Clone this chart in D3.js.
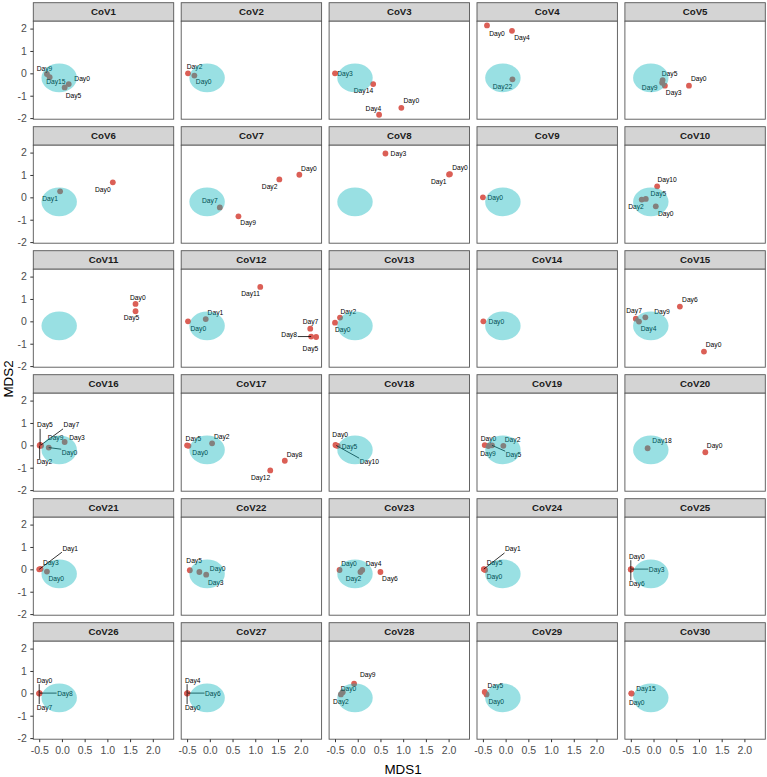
<!DOCTYPE html>
<html>
<head>
<meta charset="utf-8">
<script src="https://cdn.jsdelivr.net/npm/d3@7"></script>
<style>
body{margin:0;background:#fff;}
svg{font-family:"Liberation Sans",Arial,Helvetica,sans-serif;}
</style>
</head>
<body>
<svg id="chart" width="767" height="777"></svg>
<script>
// patients (facets), one entry per panel
var patients = ["CoV1","CoV2","CoV3","CoV4","CoV5","CoV6","CoV7","CoV8","CoV9","CoV10",
	"CoV11","CoV12","CoV13","CoV14","CoV15","CoV16","CoV17","CoV18","CoV19","CoV20",
	"CoV21","CoV22","CoV23","CoV24","CoV25","CoV26","CoV27","CoV28","CoV29","CoV30"];

// sample day of each point, per patient
var sampleDays = [
	["Day9","Day15","Day0","Day5"],
	["Day2","Day0"],
	["Day3","Day14","Day4","Day0"],
	["Day0","Day4","Day22"],
	["Day5","Day9","Day3","Day0"],
	["Day1","Day0"],
	["Day7","Day9","Day2","Day0"],
	["Day3","Day0","Day1"],
	["Day0"],
	["Day10","Day5","Day2","Day0"],
	["Day0","Day5"],
	["Day0","Day1","Day11","Day7","Day8","Day5"],
	["Day2","Day0"],
	["Day0"],
	["Day7","Day9","Day4","Day6","Day0"],
	["Day5","Day7","Day9","Day2","Day3","Day0"],
	["Day5","Day2","Day0","Day8","Day12"],
	["Day0","Day5","Day10"],
	["Day0","Day9","Day2","Day5"],
	["Day18","Day0"],
	["Day1","Day3","Day0"],
	["Day5","Day0","Day3"],
	["Day0","Day4","Day2","Day6"],
	["Day1","Day5","Day0"],
	["Day0","Day3","Day6"],
	["Day0","Day8","Day7"],
	["Day4","Day6","Day0"],
	["Day9","Day0","Day2"],
	["Day5","Day0"],
	["Day15","Day0"]
];

// MDS1 coordinate of each point
var sampleMDS1 = [
	[-0.33,-0.27,0.15,0.06],
	[-0.48,-0.34],
	[-0.50,0.34,0.47,0.96],
	[-0.41,0.14,0.15],
	[0.20,0.19,0.25,0.78],
	[-0.04,1.12],
	[0.22,0.63,1.53,1.97],
	[0.61,2.03,2.01],
	[-0.50],
	[0.08,-0.17,-0.26,0.05],
	[1.62,1.62],
	[-0.48,-0.09,1.11,2.21,2.23,2.34],
	[-0.39,-0.50],
	[-0.49],
	[-0.39,-0.18,-0.32,0.58,1.11],
	[-0.48,-0.47,-0.46,-0.49,0.06,-0.29],
	[-0.50,0.05,-0.47,1.65,1.33],
	[-0.49,-0.44,-0.47],
	[-0.46,-0.38,-0.05,-0.30],
	[-0.13,1.14],
	[-0.50,-0.47,-0.33],
	[-0.44,-0.23,-0.08],
	[-0.40,0.10,0.06,0.50],
	[-0.48,-0.47,-0.45],
	[-0.50,-0.49,-0.50],
	[-0.50,-0.49,-0.50],
	[-0.50,-0.49,-0.50],
	[-0.08,-0.33,-0.37],
	[-0.46,-0.42],
	[-0.49,-0.48]
];

// MDS2 coordinate of each point
var sampleMDS2 = [
	[-0.03,-0.17,-0.48,-0.63],
	[0.00,-0.10],
	[0.00,-0.48,-1.85,-1.54],
	[2.14,1.90,-0.27],
	[-0.30,-0.42,-0.55,-0.55],
	[0.27,0.67],
	[-0.45,-0.85,0.80,1.01],
	[1.96,1.04,1.02],
	[0.00],
	[0.49,-0.07,-0.10,-0.40],
	[0.78,0.45],
	[0.00,0.10,1.54,-0.33,-0.68,-0.70],
	[0.17,-0.06],
	[0.00],
	[0.12,0.18,-0.01,0.66,-1.35],
	[0.02,0.00,-0.02,-0.01,0.15,-0.10],
	[0.00,0.09,-0.02,-0.69,-1.12],
	[0.02,-0.02,-0.01],
	[0.01,-0.03,-0.02,0.00],
	[-0.13,-0.31],
	[0.00,0.02,-0.10],
	[-0.04,-0.12,-0.24],
	[-0.03,-0.03,-0.12,-0.12],
	[0.01,0.00,-0.03],
	[0.00,0.01,-0.01],
	[0.00,0.01,-0.01],
	[0.00,0.01,-0.01],
	[0.43,0.05,-0.05],
	[0.06,-0.05],
	[0.00,-0.01]
];

// healthy reference region (ellipse), MDS units
var healthyCentre = [-0.06, -0.20];
var healthyRadius = [0.39, 0.64];

// tick values
var xTicks = [-0.5, 0, 0.5, 1, 1.5, 2];
var yTicks = [-2, -1, 0, 1, 2];

// label placement (repel result): [dx, dy, segment] in px, per point
var labelNudge = [
	[[-2.4,-5.3],[6.2,4.7],[13.4,-5],[8.8,8.2]],
	[[6.6,-6.3],[9.3,5.7]],
	[[10,0],[-9.7,6.7],[-5.7,-6.4],[10,-6.7]],
	[[10,8],[10,6.6],[-10,7.4]],
	[[7,-6.3],[-12.5,5],[8.8,6.7],[9.8,-6.6]],
	[[-10,7.3],[-10,7.3]],
	[[-10,-6.7],[9.7,6.6],[-9.7,7],[9.6,-6.3]],
	[[13,0],[10,-6],[-10.3,7.3]],
	[[12.3,0]],
	[[10,-6.4],[12.6,-5],[-5.7,7.3],[10,7.3]],
	[[2.3,-6.6],[-4,6.6]],
	[[10.3,7],[9.7,-6],[-9.7,6.7],[0.3,-7.3],[-22,-1.7,1],[-5.7,11.7]],
	[[8.3,-6.3],[7.7,6.7]],
	[[13,0]],
	[[-1.7,-8],[16.7,-6],[9.6,7],[10,-6.7],[9.6,-6.7]],
	[[4.8,-19.9,1],[30.8,-20.3,1],[14.6,-7.7],[4.8,16.5,1],[12.3,-4],[20.8,4.8,1]],
	[[6.3,-6.6],[9.7,-6.6],[11.7,6.6],[9.7,-6.4],[-9.6,7]],
	[[4.7,-10.6],[11.8,1.3],[33,15.8,1]],
	[[3.8,-6.8],[-0.4,7.7],[9.2,-5.7],[21.5,9,1]],
	[[14.4,-7.3],[9.3,-6.6]],
	[[31,-21,1],[10.3,-6.6],[9.3,7.3]],
	[[4.3,-10],[18.3,-3.3],[9.6,7.7]],
	[[9.4,-6.6],[11.3,-6.7],[-6.9,6.9],[9.5,7]],
	[[29,-20,1],[10.3,-6.4],[9.3,6.3]],
	[[6,-13,1],[25.4,0.6,1],[6,14,1]],
	[[5.3,-13,1],[25.3,0.4,1],[5.3,13.7,1]],
	[[5.7,-13,1],[25.3,0.4,1],[5.7,13.7,1]],
	[[13.7,-8.7],[5.8,-3.5],[0,7.3]],
	[[10.7,-6.3],[9.7,7.4]],
	[[14.7,-4.3],[5,9.4]]
];

//layout of the facet grid
var panelLeft = 33.3, panelW = 140.4, colStep = 147.9;
var stripTop = 2.7, stripH = 18.5, panelH = 98, rowStep = 124;
var nCol = 5, nRow = 6;

var pointColor = "#db5f56";
var ellipseColor = "rgba(0,178,186,0.40)";
var borderColor = "#555555";

var x = d3.scaleLinear().domain([-0.63, 2.46]).range([0, panelW]);
var y = d3.scaleLinear().domain([-2.05, 2.33]).range([panelH, 0]);

var svg = d3.select("#chart");

function clamp(v, lo, hi) { return Math.max(lo, Math.min(hi, v)); }

patients.forEach(function(name, i) {
	var col = i % nCol, row = Math.floor(i / nCol);
	var g = svg.append("g")
		.attr("transform", "translate(" + (panelLeft + col * colStep) + "," + (stripTop + row * rowStep) + ")");

	//strip
	g.append("rect")
		.attr("width", panelW).attr("height", stripH)
		.attr("fill", "#d4d4d4").attr("stroke", borderColor).attr("stroke-width", 0.9);
	g.append("text")
		.attr("x", panelW / 2).attr("y", stripH / 2).attr("dy", "0.36em")
		.attr("text-anchor", "middle")
		.attr("font-size", "9.7px").attr("font-weight", "bold").attr("fill", "#1a1a1a")
		.text(name);

	var pg = g.append("g").attr("transform", "translate(0," + stripH + ")");
	pg.append("rect").attr("width", panelW).attr("height", panelH).attr("fill", "#fff");

	var pts = sampleDays[i].map(function(d, j) {
		return {day: d, mx: sampleMDS1[i][j], my: sampleMDS2[i][j], nudge: labelNudge[i][j]};
	});

	pg.selectAll("circle.pt").data(pts).enter().append("circle")
		.attr("class", "pt")
		.attr("cx", function(d) { return x(d.mx); })
		.attr("cy", function(d) { return y(d.my); })
		.attr("r", 2.9)
		.attr("fill", pointColor);

	var segLayer = pg.append("g");
	var lblLayer = pg.append("g");
	pts.forEach(function(d) {
		var px = x(d.mx), py = y(d.my);
		var t = lblLayer.append("text")
			.attr("x", px + d.nudge[0]).attr("y", py + d.nudge[1]).attr("dy", "0.35em")
			.attr("text-anchor", "middle")
			.attr("font-size", "6.7px").attr("fill", "#000")
			.text(d.day);
		if (d.nudge[2]) {
			var bb = t.node().getBBox();
			var nx = clamp(px, bb.x - 0.5, bb.x + bb.width + 0.5);
			var ny = clamp(py, bb.y + 0.5, bb.y + bb.height - 0.5);
			segLayer.append("line")
				.attr("x1", px).attr("y1", py).attr("x2", nx).attr("y2", ny)
				.attr("stroke", "#000").attr("stroke-width", 0.8);
		}
	});

	//healthy ellipse, drawn over the points
	pg.append("ellipse")
		.attr("cx", x(healthyCentre[0])).attr("cy", y(healthyCentre[1]))
		.attr("rx", x(healthyCentre[0] + healthyRadius[0]) - x(healthyCentre[0]))
		.attr("ry", y(healthyCentre[1]) - y(healthyCentre[1] + healthyRadius[1]))
		.attr("fill", ellipseColor);

	pg.append("rect").attr("width", panelW).attr("height", panelH)
		.attr("fill", "none").attr("stroke", borderColor).attr("stroke-width", 0.9);

	//axes only on outer panels
	if (col == 0) {
		var ya = pg.append("g")
			.call(d3.axisLeft(y).tickValues(yTicks).tickSize(3).tickPadding(3.5)
				.tickFormat(function(v) { return String(v); }));
		ya.select(".domain").remove();
		ya.selectAll("line").attr("stroke", "#333");
		ya.selectAll("text").attr("font-size", "10.5px").attr("fill", "#4d4d4d").attr("font-family", null);
	}
	if (row == nRow - 1) {
		var xa = pg.append("g").attr("transform", "translate(0," + panelH + ")")
			.call(d3.axisBottom(x).tickValues(xTicks).tickSize(3).tickPadding(4)
				.tickFormat(function(v) { return v.toFixed(1); }));
		xa.select(".domain").remove();
		xa.selectAll("line").attr("stroke", "#333");
		xa.selectAll("text").attr("font-size", "10.5px").attr("fill", "#4d4d4d").attr("font-family", null);
	}
});

//axis titles
svg.append("text")
	.attr("x", 403).attr("y", 774)
	.attr("text-anchor", "middle").attr("font-size", "13.4px").attr("fill", "#000")
	.text("MDS1");
svg.append("text")
	.attr("transform", "translate(12.7,379) rotate(-90)")
	.attr("text-anchor", "middle").attr("font-size", "13.4px").attr("fill", "#000")
	.text("MDS2");
</script>
</body>
</html>
